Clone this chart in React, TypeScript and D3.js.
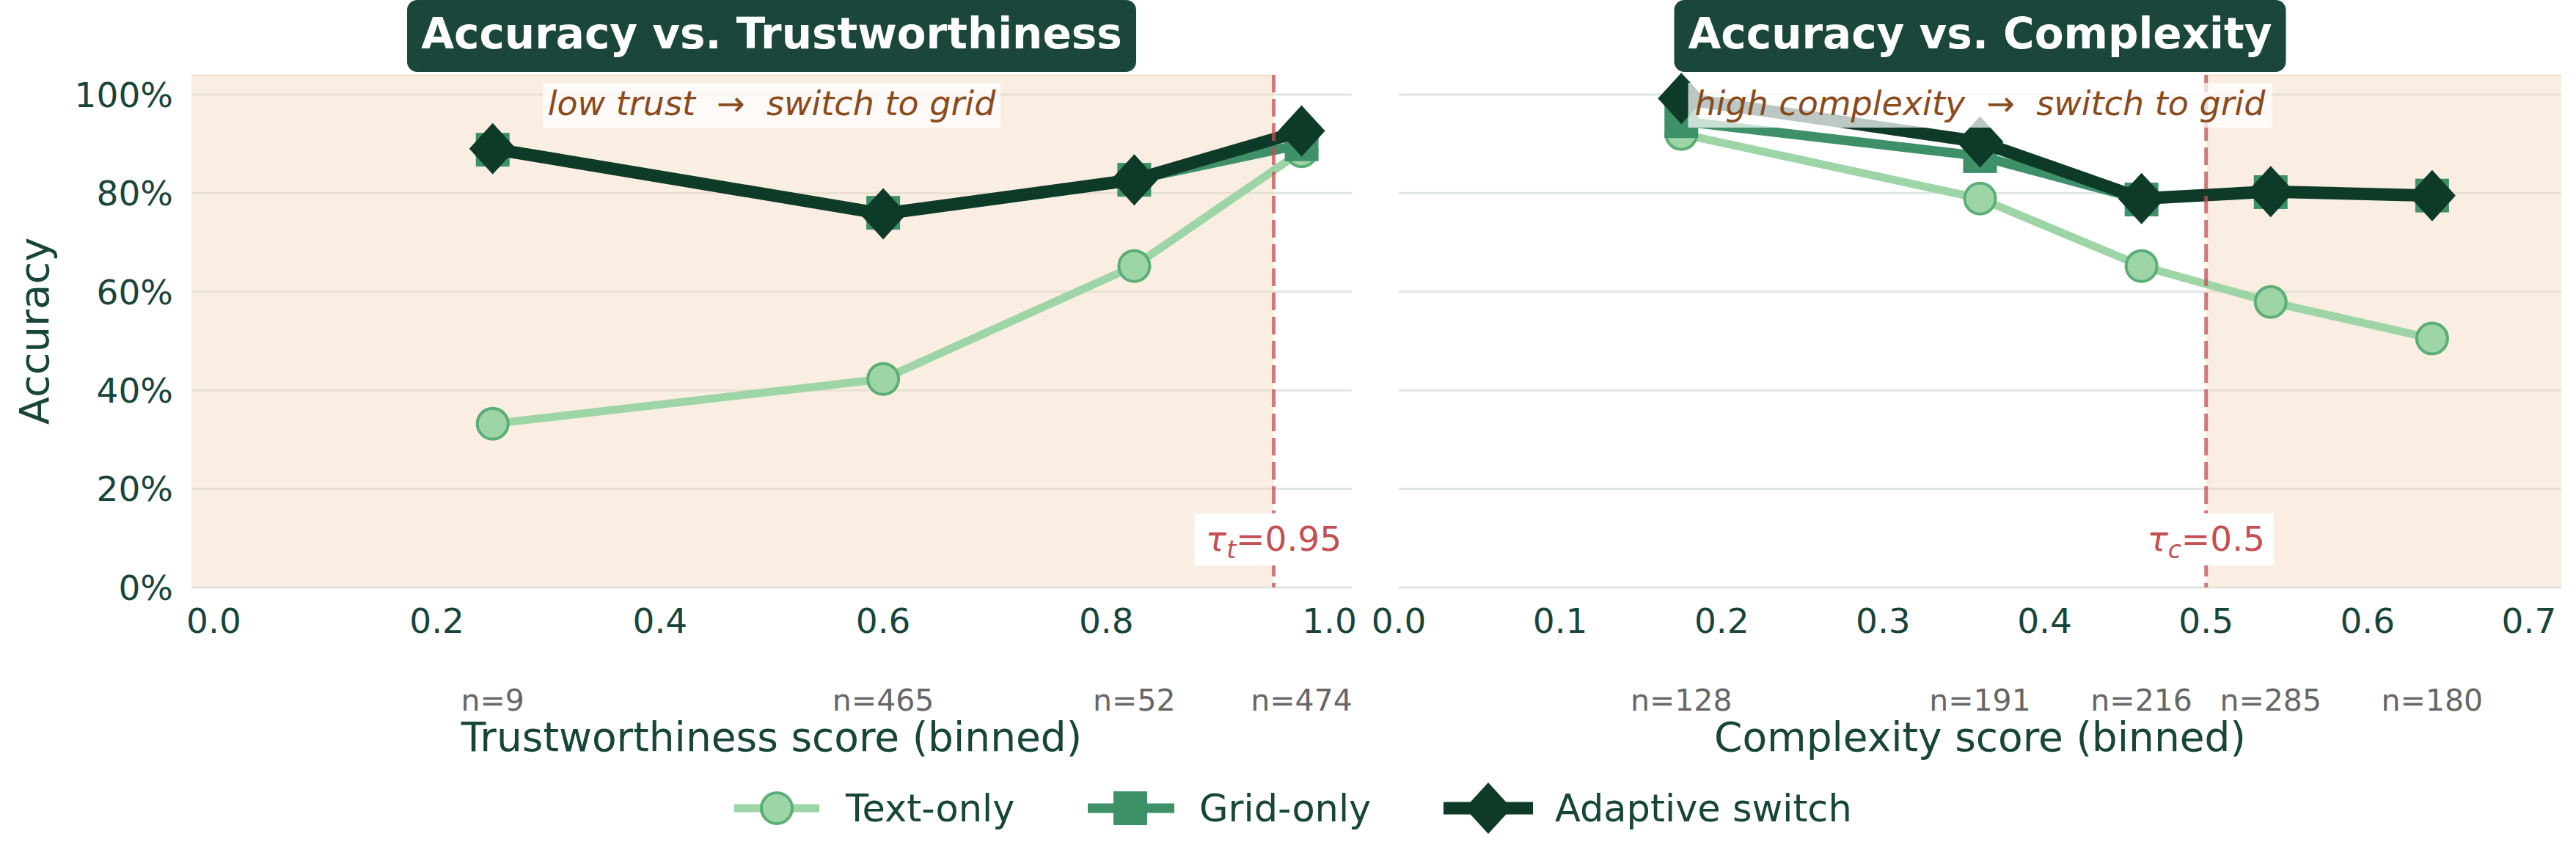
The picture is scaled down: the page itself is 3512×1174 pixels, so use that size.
import * as d3 from 'd3';
import { useEffect } from 'react';

// trust panel (bin centres, accuracy per method, bin sizes)
const trustBins = [0.25, 0.6, 0.825, 0.975];
const trustText = [0.332, 0.423, 0.652, 0.885];
const trustGrid = [0.888, 0.76, 0.827, 0.899];
const trustAdaptive = [0.89, 0.758, 0.827, 0.926];
const trustCounts = [9, 465, 52, 474];

// complexity panel
const complexBins = [0.175, 0.36, 0.46, 0.54, 0.64];
const complexText = [0.92, 0.789, 0.652, 0.579, 0.505];
const complexGrid = [0.946, 0.875, 0.787, 0.802, 0.795];
const complexAdaptive = [0.992, 0.904, 0.789, 0.803, 0.795];
const complexCounts = [128, 191, 216, 285, 180];

const yTicks = [0, 0.2, 0.4, 0.6, 0.8, 1.0];
const trustTicks = [0, 0.2, 0.4, 0.6, 0.8, 1.0];
const complexTicks = [0, 0.1, 0.2, 0.3, 0.4, 0.5, 0.6, 0.7];

const TAU_T = 0.95;
const TAU_C = 0.5;

const W = 3512;
const H = 1174;
const FONT = '"DejaVu Sans", Verdana, sans-serif';
const DARK = '#17453a';
const TITLE_BG = '#1a463c';
const BROWN = '#8b4a1c';
const RED = '#c44e52';

const C_TEXT = '#9dd5a7';
const C_TEXT_EDGE = '#5aae76';
const C_GRID = '#3e9068';
const C_ADAPT = '#0e3b28';

const PLOT_TOP = 102;
const PLOT_BOTTOM = 801;

const yScale = d3.scaleLinear().domain([0, 1.04]).range([PLOT_BOTTOM, PLOT_TOP]);

type PanelProps = {
  x0: number;
  x1: number;
  domain: [number, number];
  ticks: number[];
  bins: number[];
  text: number[];
  grid: number[];
  adaptive: number[];
  counts: number[];
  tau: number;
  tauSub: string;
  tauLabel: string;
  tauBox: number;
  shade: 'left' | 'right';
  title: string;
  titleBox: number;
  note: string;
  noteBox: number;
  xLabel: string;
  showY: boolean;
};

const diamond = (cx: number, cy: number, w = 32, h = 35) =>
  `M${cx},${cy - h}L${cx + w},${cy}L${cx},${cy + h}L${cx - w},${cy}Z`;

const Panel = (p: PanelProps) => {
  const x = d3.scaleLinear().domain(p.domain).range([p.x0, p.x1]);
  const cx = (p.x0 + p.x1) / 2;
  const line = (vals: number[]) =>
    d3
      .line<number>()
      .x((_, i) => x(p.bins[i]))
      .y((v) => yScale(v))(vals) || '';

  const shadeX0 = p.shade === 'left' ? p.x0 : x(p.tau);
  const shadeX1 = p.shade === 'left' ? x(p.tau) : p.x1;

  const tauX = x(p.tau);
  const tauY = yScale(0.1);

  return (
    <g>
      {/* horizontal grid */}
      {yTicks.map((t) => (
        <line
          key={t}
          x1={p.x0}
          x2={p.x1}
          y1={yScale(t)}
          y2={yScale(t)}
          stroke="#dfe6e4"
          strokeWidth={3}
        />
      ))}
      {/* region where the adaptive rule switches */}
      <rect
        x={shadeX0}
        y={PLOT_TOP}
        width={shadeX1 - shadeX0}
        height={PLOT_BOTTOM - PLOT_TOP}
        fill="#f4d9be"
        opacity={0.45}
      />
      <line x1={shadeX0} x2={shadeX1} y1={PLOT_TOP + 1} y2={PLOT_TOP + 1} stroke="#f6dcc4" strokeWidth={2} />

      {/* y axis */}
      {p.showY &&
        yTicks.map((t) => (
          <text
            key={t}
            x={236}
            y={yScale(t)}
            dy="0.36em"
            textAnchor="end"
            fontSize={47}
            fill={DARK}
          >
            {Math.round(t * 100)}%
          </text>
        ))}
      {p.showY && (
        <text
          transform={`translate(46,${(PLOT_TOP + PLOT_BOTTOM) / 2}) rotate(-90)`}
          textAnchor="middle"
          dy="0.36em"
          fontSize={56}
          fill={DARK}
        >
          Accuracy
        </text>
      )}

      {/* x axis */}
      {p.ticks.map((t) => (
        <text key={t} x={x(t)} y={863} textAnchor="middle" fontSize={47} fill={DARK}>
          {t.toFixed(1)}
        </text>
      ))}
      {p.bins.map((b, i) => (
        <text key={b} x={x(b)} y={969} textAnchor="middle" fontSize={41} fill="#666666">
          n={p.counts[i]}
        </text>
      ))}
      <text x={cx} y={1024} textAnchor="middle" fontSize={55} fill={DARK}>
        {p.xLabel}
      </text>

      {/* series */}
      <path d={line(p.text)} fill="none" stroke={C_TEXT} strokeWidth={11} strokeLinejoin="round" />
      {p.text.map((v, i) => (
        <circle key={i} cx={x(p.bins[i])} cy={yScale(v)} r={21} fill={C_TEXT} stroke={C_TEXT_EDGE} strokeWidth={4} />
      ))}
      <path d={line(p.grid)} fill="none" stroke={C_GRID} strokeWidth={13} strokeLinejoin="round" />
      {p.grid.map((v, i) => (
        <rect key={i} x={x(p.bins[i]) - 23} y={yScale(v) - 23} width={46} height={46} fill={C_GRID} />
      ))}
      <path d={line(p.adaptive)} fill="none" stroke={C_ADAPT} strokeWidth={17} strokeLinejoin="round" />
      {p.adaptive.map((v, i) => (
        <path key={i} d={diamond(x(p.bins[i]), yScale(v))} fill={C_ADAPT} />
      ))}

      {/* threshold */}
      <line
        x1={tauX}
        x2={tauX}
        y1={PLOT_TOP}
        y2={PLOT_BOTTOM}
        stroke={RED}
        strokeOpacity={0.75}
        strokeWidth={5}
        strokeDasharray="24,9"
      />
      <rect x={tauX - p.tauBox / 2} y={700} width={p.tauBox} height={71} fill="#ffffff" />
      <text x={tauX} y={tauY} dy="0.36em" textAnchor="middle" fontSize={47} fill={RED}>
        <tspan fontStyle="italic">τ</tspan>
        <tspan fontStyle="italic" fontSize={33} dy="10">
          {p.tauSub}
        </tspan>
        <tspan dy="-10">={p.tauLabel}</tspan>
      </text>

      {/* annotation on top of the data */}
      <rect x={cx - p.noteBox / 2} y={113} width={p.noteBox} height={61} fill="#ffffff" opacity={0.72} />
      <text x={cx} y={157} textAnchor="middle" fontSize={46} fontStyle="italic" fill={BROWN} style={{ whiteSpace: 'pre' }}>
        {p.note}
      </text>

      {/* title badge */}
      <rect x={cx - p.titleBox / 2} y={0} width={p.titleBox} height={98} rx={14} fill={TITLE_BG} />
      <text x={cx} y={66} textAnchor="middle" fontSize={58} fontWeight="bold" fill="#ffffff">
        {p.title}
      </text>
    </g>
  );
};

const legendItems = [
  { label: 'Text-only', kind: 'text', x: 1001 },
  { label: 'Grid-only', kind: 'grid', x: 1483 },
  { label: 'Adaptive switch', kind: 'adaptive', x: 1968 },
];

const Legend = () => {
  const y = 1102;
  return (
    <g>
      {legendItems.map((it) => {
        const mid = it.x + 58;
        return (
          <g key={it.label}>
            {it.kind === 'text' && (
              <>
                <line x1={it.x} x2={it.x + 116} y1={y} y2={y} stroke={C_TEXT} strokeWidth={11} />
                <circle cx={mid} cy={y} r={21} fill={C_TEXT} stroke={C_TEXT_EDGE} strokeWidth={4} />
              </>
            )}
            {it.kind === 'grid' && (
              <>
                <line x1={it.x} x2={it.x + 118} y1={y} y2={y} stroke={C_GRID} strokeWidth={13} />
                <rect x={mid - 23} y={y - 23} width={46} height={46} fill={C_GRID} />
              </>
            )}
            {it.kind === 'adaptive' && (
              <>
                <line x1={it.x} x2={it.x + 122} y1={y} y2={y} stroke={C_ADAPT} strokeWidth={17} />
                <path d={diamond(it.x + 61, y)} fill={C_ADAPT} />
              </>
            )}
            <text x={it.x + 152} y={y} dy="0.36em" fontSize={51} fill={DARK}>
              {it.label}
            </text>
          </g>
        );
      })}
    </g>
  );
};

export default function App() {
  useEffect(() => {
    document.body.style.margin = '0';
  }, []);

  return (
    <svg width={W} height={H} style={{ display: 'block', background: '#fff' }} fontFamily={FONT}>
      <Panel
        x0={261}
        x1={1843}
        domain={[-0.02, 1.02]}
        ticks={trustTicks}
        bins={trustBins}
        text={trustText}
        grid={trustGrid}
        adaptive={trustAdaptive}
        counts={trustCounts}
        tau={TAU_T}
        tauSub="t"
        tauLabel="0.95"
        tauBox={216}
        shade="left"
        title="Accuracy vs. Trustworthiness"
        titleBox={994}
        note={'low trust  \u2192  switch to grid'}
        noteBox={624}
        xLabel="Trustworthiness score (binned)"
        showY
      />
      <Panel
        x0={1907}
        x1={3492}
        domain={[0, 0.72]}
        ticks={complexTicks}
        bins={complexBins}
        text={complexText}
        grid={complexGrid}
        adaptive={complexAdaptive}
        counts={complexCounts}
        tau={TAU_C}
        tauSub="c"
        tauLabel="0.5"
        tauBox={184}
        shade="right"
        title="Accuracy vs. Complexity"
        titleBox={834}
        note={'high complexity  \u2192  switch to grid'}
        noteBox={796}
        xLabel="Complexity score (binned)"
        showY={false}
      />
      <Legend />
    </svg>
  );
}
